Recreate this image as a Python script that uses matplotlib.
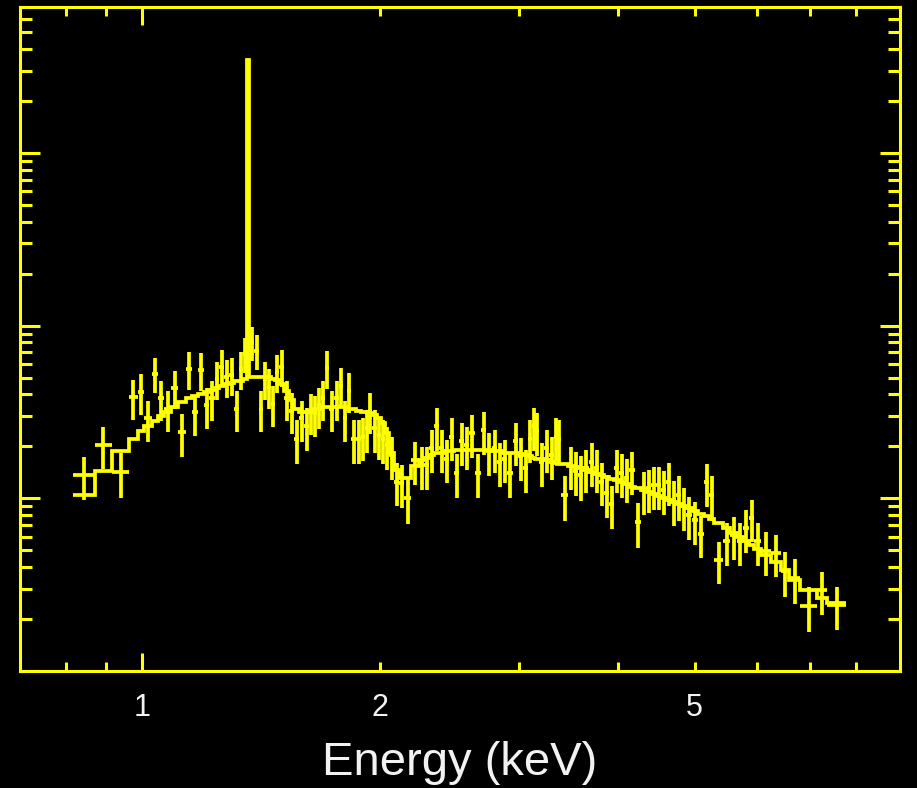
import numpy as np
import matplotlib
matplotlib.use("Agg")
import matplotlib.pyplot as plt
from matplotlib.ticker import FixedLocator, FuncFormatter, NullFormatter, LogLocator

# ---- data ----
energy_edges = [
    0.818, 0.870, 0.916, 0.963, 0.986, 1.006, 1.027, 1.048, 1.066, 1.088,
    1.111, 1.134, 1.157, 1.177, 1.198, 1.216, 1.234, 1.252, 1.270, 1.289,
    1.308, 1.327, 1.342, 1.355, 1.365, 1.386, 1.406, 1.423, 1.439, 1.456,
    1.474, 1.491, 1.513, 1.535, 1.557, 1.580, 1.603, 1.627, 1.646, 1.665,
    1.685, 1.705, 1.725, 1.750, 1.775, 1.796, 1.817, 1.839, 1.866, 1.893,
    1.915, 1.932, 1.955, 1.983, 2.007, 2.031, 2.054, 2.085, 2.115, 2.146,
    2.190, 2.242, 2.275, 2.308, 2.342, 2.377, 2.411, 2.447, 2.483, 2.519,
    2.556, 2.594, 2.639, 2.686, 2.725, 2.773, 2.814, 2.855, 2.897, 2.948,
    2.992, 3.035, 3.080, 3.116, 3.143, 3.180, 3.227, 3.274, 3.322, 3.352,
    3.391, 3.461, 3.511, 3.563, 3.615, 3.679, 3.733, 3.788, 3.843, 3.900,
    3.957, 4.015, 4.074, 4.134, 4.207, 4.281, 4.344, 4.407, 4.472, 4.538,
    4.604, 4.672, 4.740, 4.810, 4.880, 4.966, 5.054, 5.143, 5.219, 5.295,
    5.436, 5.548, 5.662, 5.762, 5.863, 5.949, 6.072, 6.251, 6.436, 6.588,
    6.802, 7.148, 7.359, 7.778,
]

rate = [
    0.0136, 0.0203, 0.0142, 0.0384, 0.0415, 0.0290, 0.0528, 0.0379, 0.0331, 0.0438,
    0.0241, 0.0564, 0.0314, 0.0557, 0.0345, 0.0379, 0.0494, 0.0579, 0.0507, 0.0521,
    0.0331, 0.0564, 0.0689, 0.0841, 0.0808, 0.0717, 0.0331, 0.0494, 0.0444, 0.0354,
    0.0542, 0.0579, 0.0379, 0.0322, 0.0222, 0.0290, 0.0261, 0.0318, 0.0310, 0.0345,
    0.0379, 0.0572, 0.0331, 0.0379, 0.0450, 0.0290, 0.0421, 0.0222, 0.0222, 0.0228,
    0.0254, 0.0322, 0.0254, 0.0232, 0.0222, 0.0203, 0.0177, 0.0125, 0.0122, 0.0100,
    0.0166, 0.0155, 0.0155, 0.0195, 0.0261, 0.0195, 0.0170, 0.0228, 0.0140, 0.0214,
    0.0203, 0.0238, 0.0140, 0.0247, 0.0187, 0.0195, 0.0163, 0.0170, 0.0140, 0.0214,
    0.0175, 0.0149, 0.0222, 0.0261, 0.0244, 0.0163, 0.0195, 0.0177, 0.0228, 0.0222,
    0.0104, 0.0155, 0.0144, 0.0136, 0.0149, 0.0163, 0.0149, 0.0125, 0.0107, 0.00923,
    0.0149, 0.0140, 0.0131, 0.0145, 0.00726, 0.0111, 0.0114, 0.0119, 0.0119, 0.0112,
    0.0125, 0.00974, 0.0104, 0.00899, 0.00797, 0.00746, 0.00620, 0.0124, 0.0104, 0.00438,
    0.00564, 0.00611, 0.00564, 0.00671, 0.00766, 0.00564, 0.00494, 0.00481, 0.00378, 0.00345,
    0.00237, 0.00294, 0.00240,
]

rate_err = [
    0.0038, 0.0056, 0.0041, 0.0100, 0.0110, 0.0078, 0.0120, 0.0100, 0.0090, 0.0110,
    0.0068, 0.0140, 0.0085, 0.0140, 0.0092, 0.0100, 0.0125, 0.0140, 0.0125, 0.0130,
    0.0088, 0.0140, 0.0160, 0.0180, 0.0180, 0.0165, 0.0088, 0.0125, 0.0115, 0.0095,
    0.0135, 0.0140, 0.0100, 0.0087, 0.0063, 0.0078, 0.0072, 0.0085, 0.0083, 0.0092,
    0.0100, 0.0140, 0.0088, 0.0100, 0.0115, 0.0078, 0.0110, 0.0063, 0.0063, 0.0064,
    0.0070, 0.0087, 0.0070, 0.0065, 0.0063, 0.0057, 0.0050, 0.0035, 0.0034, 0.0029,
    0.0047, 0.0044, 0.0044, 0.0054, 0.0072, 0.0054, 0.0048, 0.0064, 0.0040, 0.0060,
    0.0057, 0.0066, 0.0040, 0.0068, 0.0052, 0.0054, 0.0046, 0.0048, 0.0040, 0.0060,
    0.0049, 0.0042, 0.0062, 0.0072, 0.0068, 0.0046, 0.0054, 0.0050, 0.0064, 0.0062,
    0.0030, 0.0044, 0.0041, 0.0039, 0.0042, 0.0046, 0.0042, 0.0035, 0.0030, 0.0026,
    0.0042, 0.0040, 0.0037, 0.0041, 0.0021, 0.0031, 0.0032, 0.0033, 0.0033, 0.0032,
    0.0035, 0.0028, 0.0030, 0.0025, 0.0022, 0.0021, 0.0017, 0.0035, 0.0030, 0.0012,
    0.0016, 0.0017, 0.0016, 0.0019, 0.0021, 0.0016, 0.0014, 0.0013, 0.0011, 0.0010,
    0.00068, 0.00082, 0.00068,
]

model = [
    0.0104, 0.0144, 0.0187, 0.0222, 0.0244, 0.0261, 0.0282, 0.0298, 0.0314, 0.0340,
    0.0359, 0.0379, 0.0393, 0.0404, 0.0415, 0.0426, 0.0438, 0.0450, 0.0462, 0.0468,
    0.0475, 0.0481, 0.0494, 3.45, 0.0501, 0.0507, 0.0507, 0.0507, 0.0501, 0.0494,
    0.0487, 0.0462, 0.0421, 0.0369, 0.0331, 0.0318, 0.0318, 0.0322, 0.0327, 0.0331,
    0.0336, 0.0340, 0.0340, 0.0340, 0.0340, 0.0336, 0.0331, 0.0327, 0.0322, 0.0318,
    0.0314, 0.0310, 0.0302, 0.0290, 0.0272, 0.0238, 0.0182, 0.0145, 0.0131, 0.0131,
    0.0153, 0.0166, 0.0172, 0.0177, 0.0182, 0.0184, 0.0187, 0.0187, 0.0190, 0.0190,
    0.0190, 0.0190, 0.0190, 0.0190, 0.0190, 0.0187, 0.0187, 0.0184, 0.0184, 0.0182,
    0.0180, 0.0177, 0.0175, 0.0172, 0.0170, 0.0168, 0.0166, 0.0163, 0.0161, 0.0159,
    0.0157, 0.0153, 0.0151, 0.0149, 0.0145, 0.0142, 0.0138, 0.0136, 0.0133, 0.0129,
    0.0127, 0.0124, 0.0121, 0.0117, 0.0114, 0.0111, 0.0109, 0.0106, 0.0103, 0.0100,
    0.00974, 0.00948, 0.00923, 0.00899, 0.00875, 0.00841, 0.00808, 0.00786, 0.00756, 0.00716,
    0.00671, 0.00628, 0.00595, 0.00564, 0.00535, 0.00507, 0.00468, 0.00427, 0.00383, 0.00336,
    0.00294, 0.00264, 0.00247,
]

x_tick_labels = {1: "1", 2: "2", 5: "5"}
x_label = "Energy (keV)"

# ---- style ----
YELLOW = "#ffff00"
LW_AX = 2.2
LW_DATA = 2.7
plt.rcParams["font.family"] = ["Liberation Sans", "DejaVu Sans"]

fig = plt.figure(figsize=(9.17, 7.88), dpi=100, facecolor="black")
ax = fig.add_axes([20 / 917, 1 - 671 / 788, 880 / 917, 664 / 788], facecolor="black")
ax.set_xscale("log")
ax.set_yscale("log")

edges = np.array(energy_edges)
lo, hi = edges[:-1], edges[1:]
centers = np.sqrt(lo * hi)
xerr = np.vstack([centers - lo, hi - centers])

ax.errorbar(centers, rate, xerr=xerr, yerr=rate_err, fmt="none",
            ecolor=YELLOW, elinewidth=LW_DATA, capsize=0, zorder=3)
ax.stairs(model, edges, baseline=None, color=YELLOW, linewidth=LW_DATA, zorder=4)

ax.set_xlim(0.7, 9.1)
ax.set_ylim(1e-3, 7)

for s in ax.spines.values():
    s.set_color(YELLOW)
    s.set_linewidth(LW_AX)

# x ticks
ax.xaxis.set_major_locator(FixedLocator([1]))
ax.xaxis.set_minor_locator(FixedLocator([0.8, 0.9, 2, 3, 4, 5, 6, 7, 8]))
fmt = FuncFormatter(lambda v, p: x_tick_labels.get(int(round(v)), "") if abs(v - round(v)) < 1e-6 else "")
ax.xaxis.set_major_formatter(fmt)
ax.xaxis.set_minor_formatter(fmt)
# y ticks
ax.yaxis.set_major_locator(LogLocator(base=10, numticks=10))
ax.yaxis.set_minor_locator(LogLocator(base=10, subs=np.arange(2, 10), numticks=20))
ax.yaxis.set_major_formatter(NullFormatter())
ax.yaxis.set_minor_formatter(NullFormatter())

common = dict(direction="in", color=YELLOW, width=LW_AX, top=True, right=True,
              labelcolor="#f2f2f2")
ax.tick_params(axis="x", which="major", length=13, pad=16, labelsize=22, **common)
ax.tick_params(axis="x", which="minor", length=6.5, pad=16, labelsize=22, **common)
ax.tick_params(axis="y", which="major", length=14.5, labelleft=False, **common)
ax.tick_params(axis="y", which="minor", length=8.5, labelleft=False, **common)

ax.set_xlabel(x_label, color="#f2f2f2", fontsize=34, labelpad=13)

fig.savefig("out.png", dpi=100, facecolor="black")
